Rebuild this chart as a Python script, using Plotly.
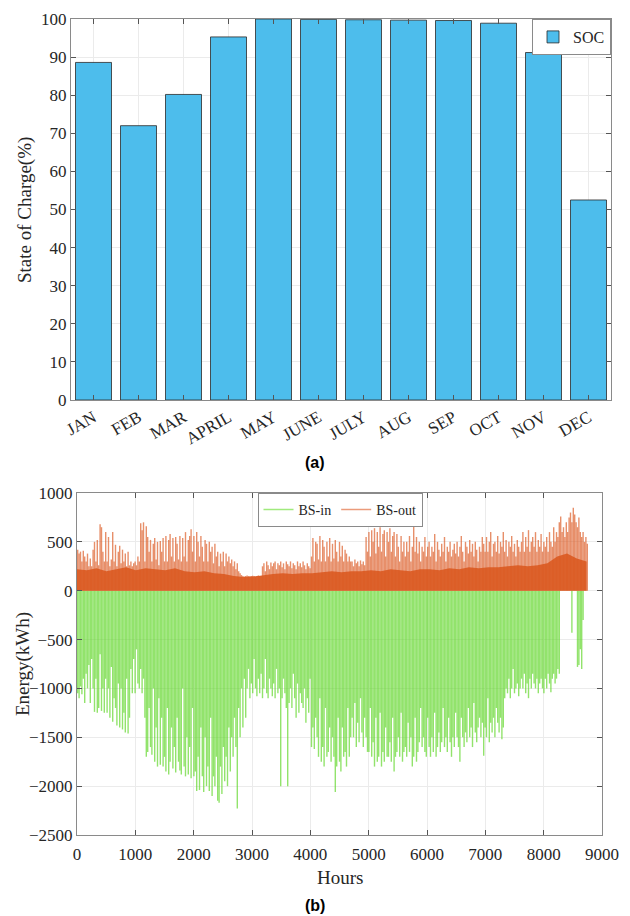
import plotly.graph_objects as go

# ---------------- (a) monthly state of charge ----------------
months = ["JAN", "FEB", "MAR", "APRIL", "MAY", "JUNE", "JULY", "AUG", "SEP", "OCT", "NOV", "DEC"]
soc = [88.6, 72.0, 80.2, 95.3, 100.0, 99.9, 99.8, 99.7, 99.6, 98.9, 91.2, 52.5]

# ---------------- (b) battery energy, one value per day ----------------
bs_in_daily = [
    -1050, -1100, -980, -1060, -900, -1150, -850, -1000, -760, -1150,
    -700, -1000, -1240, -900, -1250, -1200, -650, -1230, -1000, -1250,
    -900, -1250, -1000, -1300, -780, -1340, -1100, -1200, -1380, -950,
    -1400, -1000, -1420, -1250, -1450, -900, -1460, -1300, -800, -1050,
    -700, -1050, -600, -950, -1000, -800, -1050, -900, -1300, -1700,
    -1650, -1200, -1600, -1680, -1000, -1750, -1400, -1800, -1100, -1780,
    -1300, -1800, -1700, -1850, -1200, -1880, -1750, -1400, -1820, -1600,
    -1860, -1300, -1750, -1840, -1880, -1000, -1800, -1900, -1500, -1880,
    -1600, -1920, -1200, -1900, -1850, -2050, -1700, -2040, -1400, -1900,
    -2060, -1500, -2000, -1800, -2050, -1300, -2100, -1900, -2000, -1700,
    -2150, -2170, -1800, -2080, -1600, -1950, -1700, -2000, -1400, -1850,
    -1500, -1700, -1300, -1600, -2230, -1200, -1500, -1000, -1400, -900,
    -1300, -1000, -800, -1100, -950, -1050, -700, -1000, -1080, -900,
    -1050, -850, -1100, -1000, -700, -1050, -1100, -900, -1000, -1080,
    -950, -1100, -800, -1050, -1000, -2000, -1100, -900, -1050, -1200,
    -2000, -1150, -1000, -1200, -850, -1100, -1300, -950, -1250, -1050,
    -1150, -1200, -1000, -1350, -1100, -1250, -900, -1600, -1400, -1620,
    -1300, -1500, -1700, -1100, -1750, -1600, -1800, -1200, -1700, -1650,
    -1400, -1750, -1500, -1700, -2060, -1800, -1300, -1750, -1850, -1400,
    -1700, -1650, -1800, -1200, -1700, -1500, -1300, -1500, -1150, -1600,
    -1350, -1550, -1100, -1450, -1600, -1300, -1500, -1650, -1650, -1200,
    -1700, -1550, -1800, -1300, -1750, -1700, -1250, -1800, -1650, -1750,
    -1400, -1700, -1700, -1550, -1750, -1300, -1850, -1700, -1650, -1500,
    -1700, -1250, -1750, -1650, -1600, -1700, -1350, -1650, -1500, -1800,
    -1700, -1300, -1750, -1650, -1550, -1200, -1600, -1500, -1650, -1700,
    -1300, -1600, -1700, -1500, -1650, -1250, -1700, -1600, -1450, -1650,
    -1550, -1200, -1600, -1500, -1650, -1300, -1550, -1700, -1500, -1600,
    -1250, -1500, -1600, -1750, -1300, -1500, -1600, -1450, -1550, -1200,
    -1500, -1400, -1600, -1150, -1450, -1550, -1400, -1300, -1500, -1350,
    -1690, -1400, -1500, -1100, -1550, -1350, -1450, -1300, -1500, -1200,
    -1350, -1450, -1300, -1520, -1400, -1100, -1000, -1050, -900, -1100,
    -1000, -800, -1050, -1000, -950, -1080, -1000, -900, -1000, -850,
    -1050, -950, -1100, -900, -1000, -850, -950, -1000, -900, -1050,
    -950, -900, -1000, -1050, -900, -1000, -850, -950, -1040, -900,
    -850, -950, -900, -800, -850, 0, 0, 0, 0, 0,
    0, 0, 0, -430, 0, 0, 0, -780, -760, -600,
    -800, -300, 0, 0, 0,
]

bs_out_daily_peak = [
    420, 380, 400, 300, 410, 350, 300, 380, 250, 330,
    250, 420, 500, 300, 520, 260, 680, 650, 400, 300,
    600, 300, 550, 250, 320, 600, 300, 470, 250, 400,
    460, 280, 420, 300, 380, 250, 400, 260, 300, 250,
    280, 300, 260, 350, 300, 690, 620, 700, 300, 660,
    550, 400, 520, 300, 480, 540, 320, 500, 260, 510,
    400, 540, 300, 560, 300, 520, 580, 350, 540, 300,
    550, 480, 320, 560, 300, 540, 350, 600, 300, 520,
    560, 630, 400, 560, 300, 600, 500, 350, 560, 450,
    300, 520, 480, 300, 500, 400, 450, 280, 480, 350,
    400, 250, 380, 300, 400, 250, 380, 300, 350, 280,
    320, 250, 300, 220, 280, 200, 180, 160, 150, 145,
    150, 155, 150, 148, 150, 152, 150, 145, 150, 155,
    150, 150, 250, 280, 200, 300, 260, 220, 290, 250,
    280, 300, 220, 280, 260, 300, 240, 280, 220, 300,
    270, 250, 300, 230, 280, 260, 220, 300, 250, 280,
    240, 300, 260, 220, 280, 250, 230, 350, 540, 300,
    500, 480, 320, 560, 300, 520, 450, 300, 500, 350,
    540, 300, 480, 330, 520, 400, 300, 500, 350, 460,
    300, 420, 380, 300, 350, 300, 300, 250, 320, 280,
    300, 250, 310, 270, 300, 260, 550, 400, 600, 350,
    620, 500, 640, 380, 600, 450, 650, 400, 580, 620,
    350, 600, 500, 640, 400, 560, 600, 350, 580, 450,
    300, 560, 400, 500, 350, 500, 400, 560, 300, 450,
    690, 400, 550, 380, 500, 300, 450, 400, 550, 350,
    450, 500, 350, 450, 400, 580, 300, 500, 420, 350,
    480, 400, 550, 300, 450, 400, 500, 350, 420, 480,
    380, 500, 350, 450, 560, 400, 300, 500, 450, 380,
    520, 400, 480, 350, 500, 420, 300, 450, 400, 550,
    480, 400, 550, 400, 500, 600, 350, 480, 500, 400,
    560, 380, 500, 450, 600, 400, 520, 350, 500, 450,
    560, 400, 480, 350, 520, 450, 400, 500, 600, 400,
    550, 450, 620, 400, 500, 550, 450, 600, 400, 520,
    450, 580, 400, 500, 450, 550, 400, 600, 500, 450,
    650, 500, 600, 550, 700, 760, 600, 650, 550, 700,
    600, 750, 800, 700, 850, 780, 700, 650, 750, 600,
    550, 600, 500, 550, 480,
]

# night-time discharge level, sampled at the start of each week
bs_out_weekly_base = [
    220, 210, 230, 200, 220, 240, 210, 230, 220, 210, 230, 200, 190, 200, 180, 170,
    150, 140, 145,
    160, 170, 180, 170, 180,
    180, 190, 200, 190, 200,
    200, 210, 200, 220, 210, 200, 220,
    220, 210, 230, 220, 240, 230, 240,
    240, 250, 260, 250, 260,
    280, 350, 380, 330, 300,
]

day_hours = [24 * d + 12 for d in range(len(bs_in_daily))]
week_hours = [168 * w for w in range(len(bs_out_weekly_base))]

SERIF = "Liberation Serif"
TXT = "#262626"
GREEN = "rgba(100,215,45,0.7)"
ORANGE_LIGHT = "rgba(220,90,35,0.68)"
ORANGE_DARK = "rgba(217,83,25,0.82)"

fig = go.Figure()

fig.add_trace(go.Bar(
    x=months, y=soc, name="SOC", width=0.8,
    marker=dict(color="#4DBDEC", line=dict(color="#2a2a2a", width=0.8)),
    xaxis="x", yaxis="y", legend="legend",
))

fig.add_trace(go.Bar(
    x=day_hours, y=bs_in_daily, width=24, showlegend=False,
    marker=dict(color=GREEN, line=dict(width=0)),
    xaxis="x2", yaxis="y2",
))
fig.add_trace(go.Scatter(
    x=week_hours, y=bs_out_weekly_base, mode="lines", fill="tozeroy",
    fillcolor=ORANGE_DARK, line=dict(width=0, color=ORANGE_DARK), showlegend=False,
    xaxis="x2", yaxis="y2",
))
fig.add_trace(go.Bar(
    x=day_hours, y=bs_out_daily_peak, width=24, showlegend=False,
    marker=dict(color=ORANGE_LIGHT, line=dict(width=0)),
    xaxis="x2", yaxis="y2",
))
fig.add_trace(go.Scatter(
    x=[None], y=[None], mode="lines", name="BS-in",
    line=dict(color="rgba(120,225,70,0.7)", width=1.5),
    xaxis="x2", yaxis="y2", legend="legend2",
))
fig.add_trace(go.Scatter(
    x=[None], y=[None], mode="lines", name="BS-out",
    line=dict(color="rgba(230,130,90,0.8)", width=1.5),
    xaxis="x2", yaxis="y2", legend="legend2",
))

axis_common = dict(
    showline=True, linecolor="#8a8a8a", linewidth=1, mirror="ticks",
    ticks="inside", ticklen=5, tickcolor="#555555", automargin=False,
    showgrid=True, gridcolor="#ebebeb", gridwidth=1, zeroline=False,
    tickfont=dict(family=SERIF, size=17, color=TXT),
)

def label(text, x_px, y_px, size, family=SERIF, angle=0, color=TXT):
    return dict(text=text, x=x_px / 630, y=1 - y_px / 916, xref="paper", yref="paper",
                xanchor="center", yanchor="middle", textangle=angle, showarrow=False,
                font=dict(family=family, size=size, color=color))

fig.update_layout(
    width=630, height=916,
    margin=dict(l=0, r=0, t=0, b=0, autoexpand=False),
    paper_bgcolor="white", plot_bgcolor="white",
    barmode="overlay",
    font=dict(family=SERIF, color=TXT),
    xaxis=dict(domain=[71 / 630, 611 / 630], anchor="y", type="category",
               range=[-0.5, 11.5], tickangle=-30, **axis_common),
    yaxis=dict(domain=[1 - 400 / 916, 1 - 19 / 916], anchor="x",
               range=[0, 100], dtick=10, **axis_common),
    xaxis2=dict(domain=[77 / 630, 602 / 630], anchor="y2", ticklabelstandoff=4,
                range=[0, 9000], dtick=1000, **axis_common),
    yaxis2=dict(domain=[1 - 835 / 916, 1 - 493 / 916], anchor="x2",
                range=[-2500, 1000], dtick=500, **axis_common),
    legend=dict(x=611 / 630, y=1 - 19 / 916, xanchor="right", yanchor="top",
                bgcolor="white", bordercolor="#8a8a8a", borderwidth=1,
                font=dict(family=SERIF, size=16, color=TXT)),
    legend2=dict(x=340 / 630, y=1 - 493 / 916, xanchor="center", yanchor="top",
                 orientation="h", bgcolor="white", bordercolor="#8a8a8a", borderwidth=1,
                 font=dict(family=SERIF, size=14, color=TXT)),
    annotations=[
        label("State of Charge(%)", 25, 210, 19, angle=-90),
        label("<b>(a)</b>", 315, 462, 16, family="Liberation Sans", color="black"),
        label("Energy(kWh)", 23, 664, 19, angle=-90),
        label("Hours", 340, 877, 19),
        label("<b>(b)</b>", 315, 905, 16, family="Liberation Sans", color="black"),
    ],
)

fig.write_html("out.html", config={"displayModeBar": False},
               post_script="document.body.style.margin='0';document.body.style.overflow='hidden';")
